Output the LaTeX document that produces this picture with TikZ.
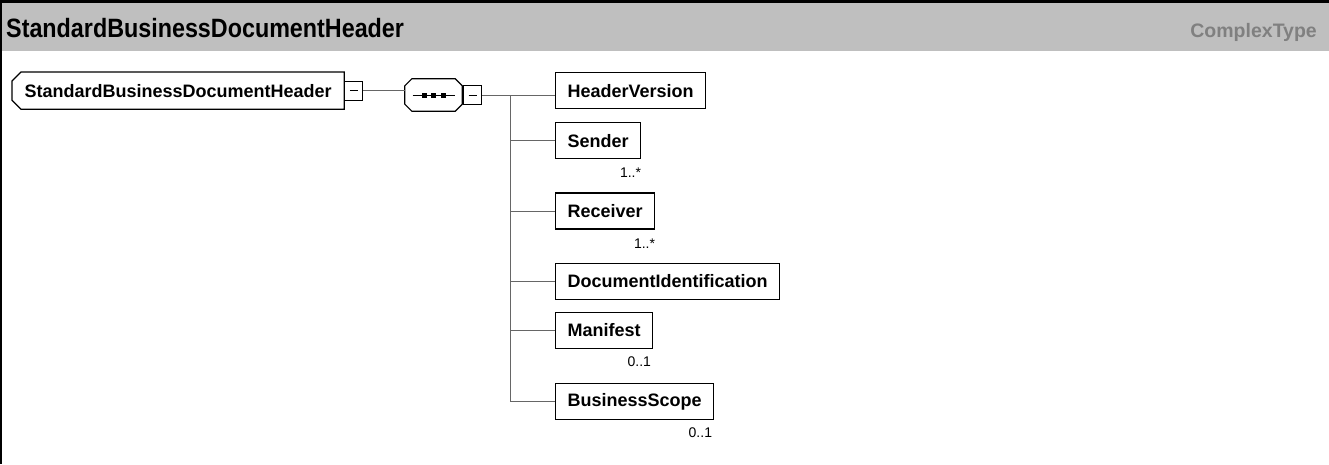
\documentclass[tikz,border=0pt]{standalone}
\usepackage{fontspec}
\setmainfont{Liberation Sans}
\usepackage{tikz}
\usetikzlibrary{positioning}

\begin{document}
\begin{tikzpicture}[x=1pt,y=-1pt]
\tikzstyle{caixa}=[draw, line width=1.2pt, fill=white, minimum height=36pt, inner xsep=12pt, inner ysep=0pt, font=\fontsize{18}{20}\selectfont\bfseries]
\tikzstyle{cardinal}=[inner sep=0pt, anchor=east, font=\fontsize{14}{16}\selectfont]
\tikzstyle{linha}=[draw=black!60, line width=1pt]
\tikzstyle{menos}=[draw, line width=1pt, fill=white, minimum width=18pt, minimum height=19pt, inner sep=0pt]
 \useasboundingbox (0,0) rectangle (1329,464);
 % cabecalho
 \fill[black!25] (0,3) rectangle (1329,51);
 \fill[black] (0,0) rectangle (1329,3);
 \fill[black] (0,0) rectangle (2,464);
 \node[anchor=base west, inner sep=0pt, font=\fontsize{26.5}{29}\selectfont\bfseries] (titulo) at (6,37.5)
   {\scalebox{0.88}[1]{StandardBusinessDocumentHeader}};
 \node[anchor=base east, inner sep=0pt, text=black!50, font=\fontsize{19.5}{22}\selectfont\bfseries] (tipo) at (1317,37) {ComplexType};
 % elemento raiz
 \node[caixa, draw=none, fill=none, minimum width=329pt, anchor=north west] (raiz) at (12,72) {StandardBusinessDocumentHeader};
 \draw[line width=1.2pt] ([xshift=9pt]raiz.north west) -- (raiz.north east) -- (raiz.south east)
   -- ([xshift=9pt]raiz.south west) -- ([yshift=9pt]raiz.south west) -- ([yshift=-9pt]raiz.north west) -- cycle;
 \node[menos, right=0pt of raiz] (menos1) {};
 \draw[line width=1pt] ([xshift=-4pt]menos1.center) -- ([xshift=4pt]menos1.center);
 % sequencia
 \node[minimum width=57pt, minimum height=32pt, inner sep=0pt] (seq) at (433.5,95) {};
 \draw[line width=1.2pt] ([xshift=7pt]seq.north west) -- ([xshift=-7pt]seq.north east) -- ([yshift=-7pt]seq.north east)
   -- ([yshift=7pt]seq.south east) -- ([xshift=-7pt]seq.south east) -- ([xshift=7pt]seq.south west)
   -- ([yshift=7pt]seq.south west) -- ([yshift=-7pt]seq.north west) -- cycle;
 \draw[line width=1pt] ([xshift=-21pt]seq.center) -- ([xshift=21pt]seq.center);
 \fill ([xshift=-9.5pt]seq.center) +(-2.5,-2.5) rectangle +(2.5,2.5);
 \fill (seq.center) +(-2.5,-2.5) rectangle +(2.5,2.5);
 \fill ([xshift=9.5pt]seq.center) +(-2.5,-2.5) rectangle +(2.5,2.5);
 \node[menos, right=1pt of seq] (menos2) {};
 \draw[line width=1pt] ([xshift=-4pt]menos2.center) -- ([xshift=4pt]menos2.center);
 \coordinate (barra) at (510,95);
 % filhos
 \node[caixa, anchor=north west] (hv) at (555,72) {HeaderVersion};
 \node[caixa, below=13pt of hv.south west, anchor=north west] (snd) {Sender};
 \node[caixa, below=33pt of snd.south west, anchor=north west] (rcv) {Receiver};
 \node[caixa, below=33pt of rcv.south west, anchor=north west] (docid) {DocumentIdentification};
 \node[caixa, below=12pt of docid.south west, anchor=north west] (man) {Manifest};
 \node[caixa, below=34pt of man.south west, anchor=north west] (bs) {BusinessScope};
 \node[cardinal] (c1) at ([yshift=-13pt]snd.south east) {1..*};
 \node[cardinal] (c2) at ([yshift=-14pt]rcv.south east) {1..*};
 \node[cardinal] (c3) at ([xshift=-2pt,yshift=-13pt]man.south east) {0..1};
 \node[cardinal] (c4) at ([xshift=-2pt,yshift=-12pt]bs.south east) {0..1};
 % ligacoes
 \draw[linha] (menos1.east) -- (menos1.east -| seq.west);
 \draw[linha] (menos2.east) -- (hv.west |- menos2.east);
 \draw[linha] (barra) -- (barra |- bs.west);
 \draw[linha] (snd.west) -- (snd.west -| barra);
 \draw[linha] (rcv.west) -- (rcv.west -| barra);
 \draw[linha] (docid.west) -- (docid.west -| barra);
 \draw[linha] (man.west) -- (man.west -| barra);
 \draw[linha] (bs.west) -- (bs.west -| barra);
\end{tikzpicture}
\end{document}
